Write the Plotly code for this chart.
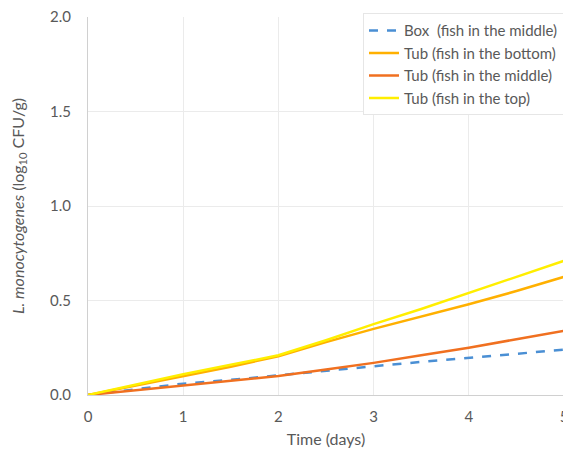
import plotly.graph_objects as go

days = [0, 0.5, 1, 1.5, 2, 2.5, 3, 3.5, 4, 4.5, 5]
box_middle = [0.0, 0.03, 0.06, 0.08, 0.105, 0.13, 0.152, 0.175, 0.195, 0.218, 0.24]
tub_bottom = [0.0, 0.05, 0.10, 0.15, 0.205, 0.28, 0.35, 0.415, 0.48, 0.55, 0.625]
tub_middle = [0.0, 0.025, 0.05, 0.075, 0.10, 0.135, 0.17, 0.21, 0.25, 0.295, 0.34]
tub_top = [0.0, 0.055, 0.11, 0.16, 0.21, 0.29, 0.375, 0.455, 0.54, 0.625, 0.71]

names = ["Box  (fish in the middle)", "Tub (fish in the bottom)",
         "Tub (fish in the middle)", "Tub (fish in the top)"]
series = [box_middle, tub_bottom, tub_middle, tub_top]
colors = ["#4a8fd4", "#ffb000", "#f07020", "#ffee00"]
dashes = ["dash", "solid", "solid", "solid"]

fig = go.Figure()
for n, s, c, d in zip(names, series, colors, dashes):
    fig.add_trace(go.Scatter(x=days, y=s, mode="lines", name=n,
                             line=dict(color=c, width=2.5, dash=d)))

font_fam = "Lato, 'Open Sans', sans-serif"
# the page body adds an 8px offset, so the figure is 8px smaller on each axis
fig.update_layout(
    width=563, height=446,
    margin=dict(l=80, r=7, t=9, b=59, autoexpand=False),
    plot_bgcolor="white", paper_bgcolor="white",
    font=dict(family=font_fam, color="#595959", size=15),
    legend=dict(x=1.0, y=1.01, xanchor="right", yanchor="top",
                bordercolor="#e6e6e6", borderwidth=1, bgcolor="white",
                font=dict(size=15, color="#595959"), tracegroupgap=0,
                itemwidth=30),
    xaxis=dict(range=[0, 5], tickvals=[0, 1, 2, 3, 4, 5], showgrid=True,
               gridcolor="#ebebeb", showline=True, linecolor="#d0d0d0",
               zeroline=False, ticks="", automargin=False, ticklabelstandoff=8,
               ticklabeloverflow="allow",
               title=dict(text="Time (days)", font=dict(size=16), standoff=9)),
    yaxis=dict(range=[0, 2.0], tickvals=[0, 0.5, 1.0, 1.5, 2.0], tickformat=".1f",
               showgrid=True, gridcolor="#ebebeb", showline=True, linecolor="#d0d0d0",
               zeroline=False, ticks="", ticklabelstandoff=13, automargin=False,
               ticklabeloverflow="allow",
               title=dict(text="<i>L. monocytogenes</i> (log<sub>10</sub> CFU/g)",
                          font=dict(size=16), standoff=24)),
)
fig.write_html("out.html")
